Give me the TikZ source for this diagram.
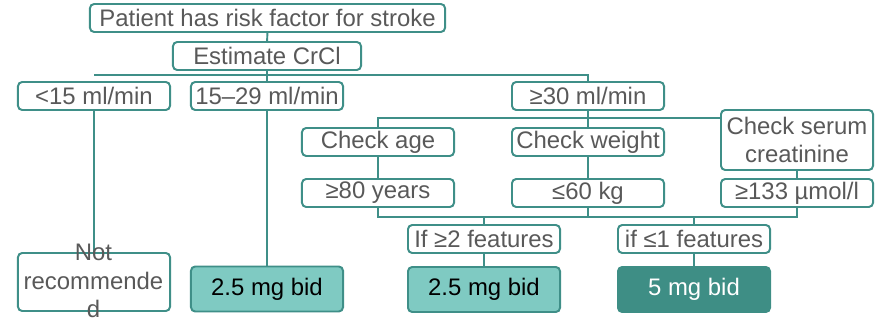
\documentclass[tikz,border=0pt]{standalone}
\usepackage{fontspec}
\setmainfont{Liberation Sans}
\usepackage{xcolor}
\usepackage{tikz}
\usetikzlibrary{positioning}

\definecolor{tealline}{HTML}{3F8F88}
\definecolor{tealfill}{HTML}{7FCAC2}
\definecolor{tealdark}{HTML}{3E8E85}
\definecolor{txtgray}{HTML}{595959}

\begin{document}
\begin{tikzpicture}[
    x=0.025cm, y=-0.025cm,
    every node/.style={font=\fontsize{17}{20}\selectfont, text=txtgray},
    box/.style={rectangle, draw=tealline, line width=1.4pt, fill=white, rounded corners=3pt, minimum width=3.8cm, minimum height=0.7cm, inner sep=0pt, align=center},
    dose/.style={box, fill=tealfill, text=black, minimum height=1.125cm},
    link/.style={draw=tealline, line width=1.4pt}
]
\useasboundingbox (0,0) rectangle (881,321);

\node (risk) [box, minimum width=8.875cm] at (267.5,18) {Patient has risk factor for stroke};
\node (crcl) [box, minimum width=4.7cm] at (267,56) {Estimate CrCl};

\node (lt15) [box] at (94,96) {<15 ml/min};
\node (mid) [box] at (267,96) {15–29 ml/min};
\node (ge30) [box] at (588,96) {≥30 ml/min};

\node (age) [box] at (378,142) {Check age};
\node (weight) [box] at (588,142) {Check weight};
\node (serum) [box, minimum height=1.5cm] at (797,140) {Check serum\\creatinine};

\node (years) [box] at (378,193) {≥80 years};
\node (kg) [box] at (588,193) {≤60 kg};
\node (umol) [box] at (797,193) {≥133 µmol/l};

\node (if2) [box] at (484,239) {If ≥2 features};
\node (if1) [box] at (694,239) {if ≤1 features};

\node (notrec) [box, minimum height=1.45cm] at (94,282) {};
\node (dosea) [dose] at (267,289) {2.5 mg bid};
\node (doseb) [dose] at (484,289.5) {2.5 mg bid};
\node (dosec) [dose, fill=tealdark, draw=tealdark, text=white] at (694,289.5) {5 mg bid};

\coordinate (bus1) at (267,75);
\coordinate (bus2) at (588,118);
\coordinate (bus3) at (588,217);

\draw [link] (risk) -- (crcl);
\draw [link] (crcl) -- (bus1);
\draw [link] (lt15 |- bus1) -| (ge30);
\draw [link] (bus1) -- (mid);

\draw [link] (ge30) -- (bus2);
\draw [link] (bus2) -| (age);
\draw [link] (bus2) -- (weight);
\draw [link] (bus2) -- (serum.west |- bus2);

\draw [link] (age) -- (years);
\draw [link] (weight) -- (kg);
\draw [link] (serum) -- (umol);

\draw [link] (years) |- (bus3) -| (umol);
\draw [link] (kg) -- (bus3);
\draw [link] (if2 |- bus3) -- (if2);
\draw [link] (if1 |- bus3) -- (if1);

\draw [link] (lt15) -- (notrec);
\draw [link] (mid) -- (dosea);
\draw [link] (if2) -- (doseb);
\draw [link] (if1) -- (dosec);

\node (notrectxt) [align=center, inner sep=0pt] at (93.5,281) {Not\\recommende\\d};

\end{tikzpicture}
\end{document}
